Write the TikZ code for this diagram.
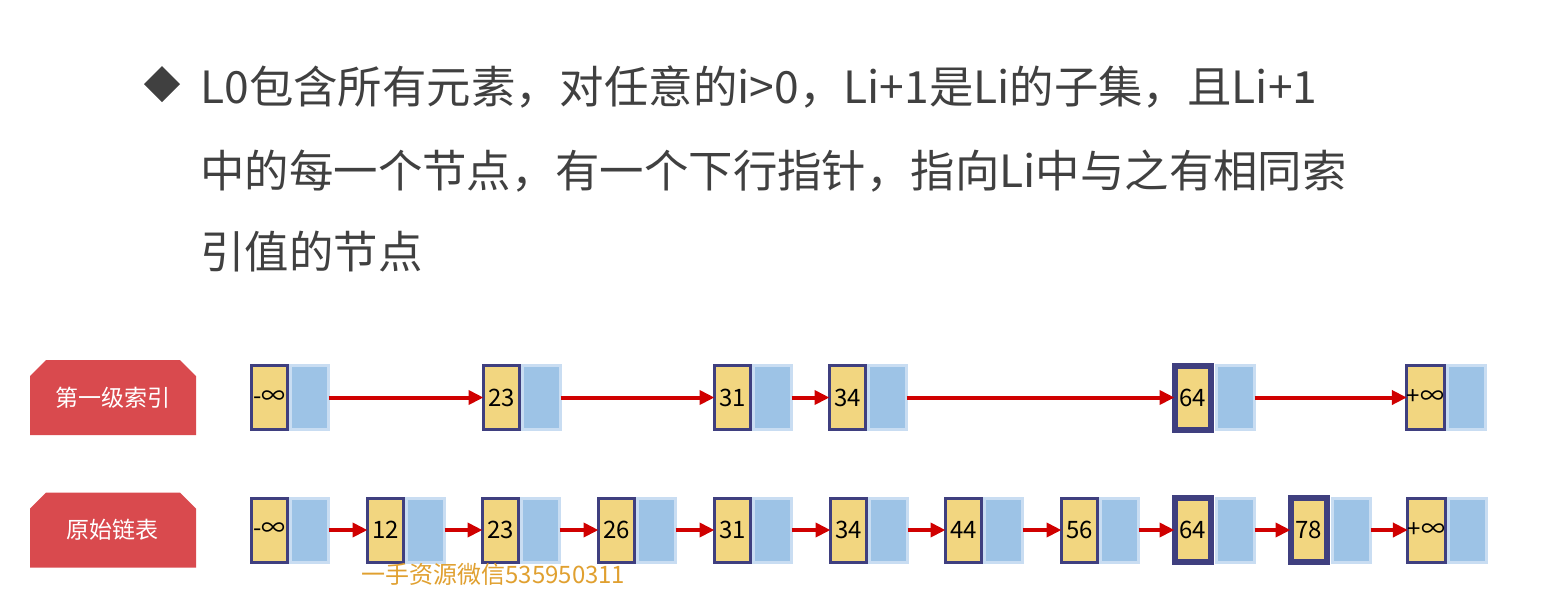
\documentclass[tikz,border=0pt]{standalone}
\usepackage{fontspec}
\setmainfont{Noto Sans CJK SC}
\usetikzlibrary{arrows.meta,positioning,shapes.misc}

\definecolor{keyyellow}{HTML}{F2D680}
\definecolor{keyborder}{HTML}{3F3F7F}
\definecolor{ptrblue}{HTML}{9DC3E6}
\definecolor{ptrborder}{HTML}{C9DDF2}
\definecolor{linkred}{HTML}{D00000}
\definecolor{tagred}{HTML}{D94A4E}
\definecolor{titlegray}{HTML}{404040}
\definecolor{markorange}{HTML}{E0A030}

\tikzset{
	keycell/.style={draw=keyborder,fill=keyyellow,line width=1.5pt,minimum width=18pt,minimum height=32pt,inner sep=0pt,outer sep=0pt,font=\fontsize{12pt}{12pt}\selectfont},
	thickkey/.style={keycell,line width=3pt},
	ptrcell/.style={draw=ptrborder,fill=ptrblue,line width=1.5pt,minimum width=19pt,minimum height=32pt,inner sep=0pt,outer sep=0pt},
	link/.style={draw=linkred,line width=2pt,-{Triangle[length=7.5pt,width=7pt]}},
	tag/.style={chamfered rectangle,chamfered rectangle corners={north west,north east},chamfered rectangle xsep=4pt,chamfered rectangle ysep=4pt,fill=tagred,text=white,minimum width=83pt,minimum height=37.5pt,inner sep=0pt,font=\fontsize{11.5pt}{11.5pt}\selectfont},
	titleline/.style={anchor=base west,inner sep=0pt,text=titlegray,font=\fontsize{22.2pt}{22.2pt}\selectfont}
}

\begin{document}
\begin{tikzpicture}[x=0.5pt,y=-0.5pt]

\def\ROWONE{397.5}
\def\ROWZERO{530}
	\useasboundingbox (0,0) rectangle (1555,602);

	% title
	\fill[titlegray] (162,66) -- (180,84) -- (162,102) -- (144,84) -- cycle;
	\node[titleline] (line1) at (200,103) {L0包含所有元素，对任意的i>0，Li+1是Li的子集，且Li+1};
	\node[titleline] (line2) at (200,187) {中的每一个节点，有一个下行指针，指向Li中与之有相同索};
	\node[titleline] (line3) at (200,268) {引值的节点};

	% level tags
	\node[tag] (lvl1) at (113,\ROWONE) {第一级索引};
	\node[tag] (lvl0) at (113,\ROWZERO) {原始链表};

	% first level index
	\node[keycell] (t1) at (269.5,\ROWONE) {-∞};
	\node[ptrcell,right=1.5pt of t1] (tp1) {};
	\node[keycell] (t2) at (501.5,\ROWONE) {23};
	\node[ptrcell,right=1.5pt of t2] (tp2) {};
	\node[keycell] (t3) at (732.5,\ROWONE) {31};
	\node[ptrcell,right=1.5pt of t3] (tp3) {};
	\node[keycell] (t4) at (847.5,\ROWONE) {34};
	\node[ptrcell,right=1.5pt of t4] (tp4) {};
	\node[thickkey] (t5) at (1192.5,\ROWONE) {64};
	\node[ptrcell,right=3pt of t5] (tp5) {};
	\node[keycell] (t6) at (1425.5,\ROWONE) {+∞};
	\node[ptrcell,right=1.5pt of t6] (tp6) {};

	\draw[link] (tp1) -- (t2);
	\draw[link] (tp2) -- (t3);
	\draw[link] (tp3) -- (t4);
	\draw[link] (tp4) -- (t5);
	\draw[link] (tp5) -- (t6);

	% original list
	\node[keycell] (b1) at (269.5,\ROWZERO) {-∞};
	\node[ptrcell,right=1.5pt of b1] (bp1) {};
	\node[keycell] (b2) at (385.5,\ROWZERO) {12};
	\node[ptrcell,right=1.5pt of b2] (bp2) {};
	\node[keycell] (b3) at (500.5,\ROWZERO) {23};
	\node[ptrcell,right=1.5pt of b3] (bp3) {};
	\node[keycell] (b4) at (616.5,\ROWZERO) {26};
	\node[ptrcell,right=1.5pt of b4] (bp4) {};
	\node[keycell] (b5) at (732.5,\ROWZERO) {31};
	\node[ptrcell,right=1.5pt of b5] (bp5) {};
	\node[keycell] (b6) at (848.5,\ROWZERO) {34};
	\node[ptrcell,right=1.5pt of b6] (bp6) {};
	\node[keycell] (b7) at (963.5,\ROWZERO) {44};
	\node[ptrcell,right=1.5pt of b7] (bp7) {};
	\node[keycell] (b8) at (1079.5,\ROWZERO) {56};
	\node[ptrcell,right=1.5pt of b8] (bp8) {};
	\node[thickkey] (b9) at (1192.5,\ROWZERO) {64};
	\node[ptrcell,right=3pt of b9] (bp9) {};
	\node[thickkey] (b10) at (1308.5,\ROWZERO) {78};
	\node[ptrcell,right=3pt of b10] (bp10) {};
	\node[keycell] (b11) at (1426.5,\ROWZERO) {+∞};
	\node[ptrcell,right=1.5pt of b11] (bp11) {};

	\draw[link] (bp1) -- (b2);
	\draw[link] (bp2) -- (b3);
	\draw[link] (bp3) -- (b4);
	\draw[link] (bp4) -- (b5);
	\draw[link] (bp5) -- (b6);
	\draw[link] (bp6) -- (b7);
	\draw[link] (bp7) -- (b8);
	\draw[link] (bp8) -- (b9);
	\draw[link] (bp9) -- (b10);
	\draw[link] (bp10) -- (b11);

	% watermark
	\node[anchor=west,inner sep=0pt,text=markorange,font=\fontsize{12pt}{12pt}\selectfont] (mark) at (361,574) {一手资源微信535950311};

\end{tikzpicture}
\end{document}
